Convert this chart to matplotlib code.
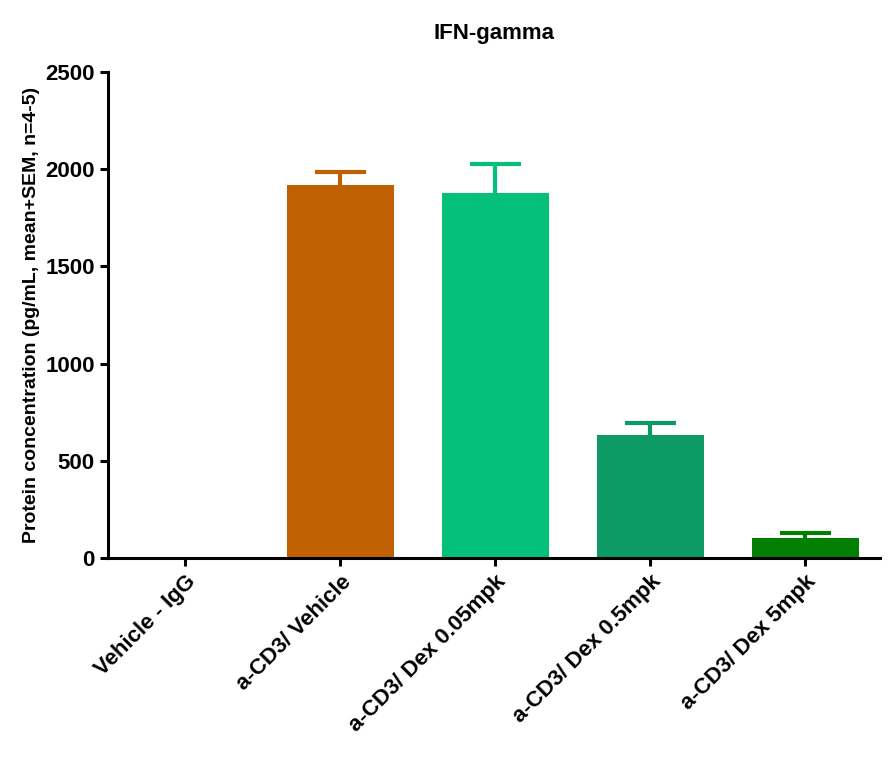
import matplotlib.pyplot as plt
import numpy as np

plt.rcParams['font.family'] = ['Liberation Sans', 'DejaVu Sans']
plt.rcParams['font.weight'] = 'bold'

groups = ['Vehicle - IgG', 'a-CD3/ Vehicle', 'a-CD3/ Dex 0.05mpk', 'a-CD3/ Dex 0.5mpk', 'a-CD3/ Dex 5mpk']
means = np.array([0, 1919, 1878, 633, 103])
sems = np.array([0, 67, 149, 62, 26])
colors = ['#ffffff', '#C06000', '#05C07A', '#0E9A64', '#037F03']

fig = plt.figure(figsize=(8.96, 7.63), dpi=100)
ax = fig.add_axes([0.1205, 0.2687, 0.8615, 0.6369])

x = np.arange(len(groups))
ax.bar(x, means, width=0.69, color=colors, zorder=3)
# upper-only SEM bars
tops = means + sems
for i in range(1, len(groups)):
    ax.vlines(x[i], means[i], tops[i], color=colors[i], lw=3, zorder=2)
    ax.hlines(tops[i], x[i] - 0.165, x[i] + 0.165, color=colors[i], lw=3, zorder=2)

ax.set_xlim(-0.5, 4.48)
ax.set_ylim(0, 2500)
ax.set_yticks([0, 500, 1000, 1500, 2000, 2500])
ax.set_xticks(x)
ax.set_xticklabels(groups, rotation=45, ha='right', rotation_mode='anchor', fontsize=16)
ax.tick_params(axis='y', labelsize=16, width=2.2, length=6)
ax.tick_params(axis='x', width=2.2, length=6)
for s in ['top', 'right']:
    ax.spines[s].set_visible(False)
for s in ['left', 'bottom']:
    ax.spines[s].set_linewidth(2.2)
    ax.spines[s].set_zorder(4)

ax.set_ylabel('Protein concentration (pg/mL, mean+SEM, n=4-5)', fontsize=14, fontweight='bold')
ax.set_title('IFN-gamma', fontsize=16, fontweight='bold', pad=24)

fig.savefig('out.png', dpi=100)
